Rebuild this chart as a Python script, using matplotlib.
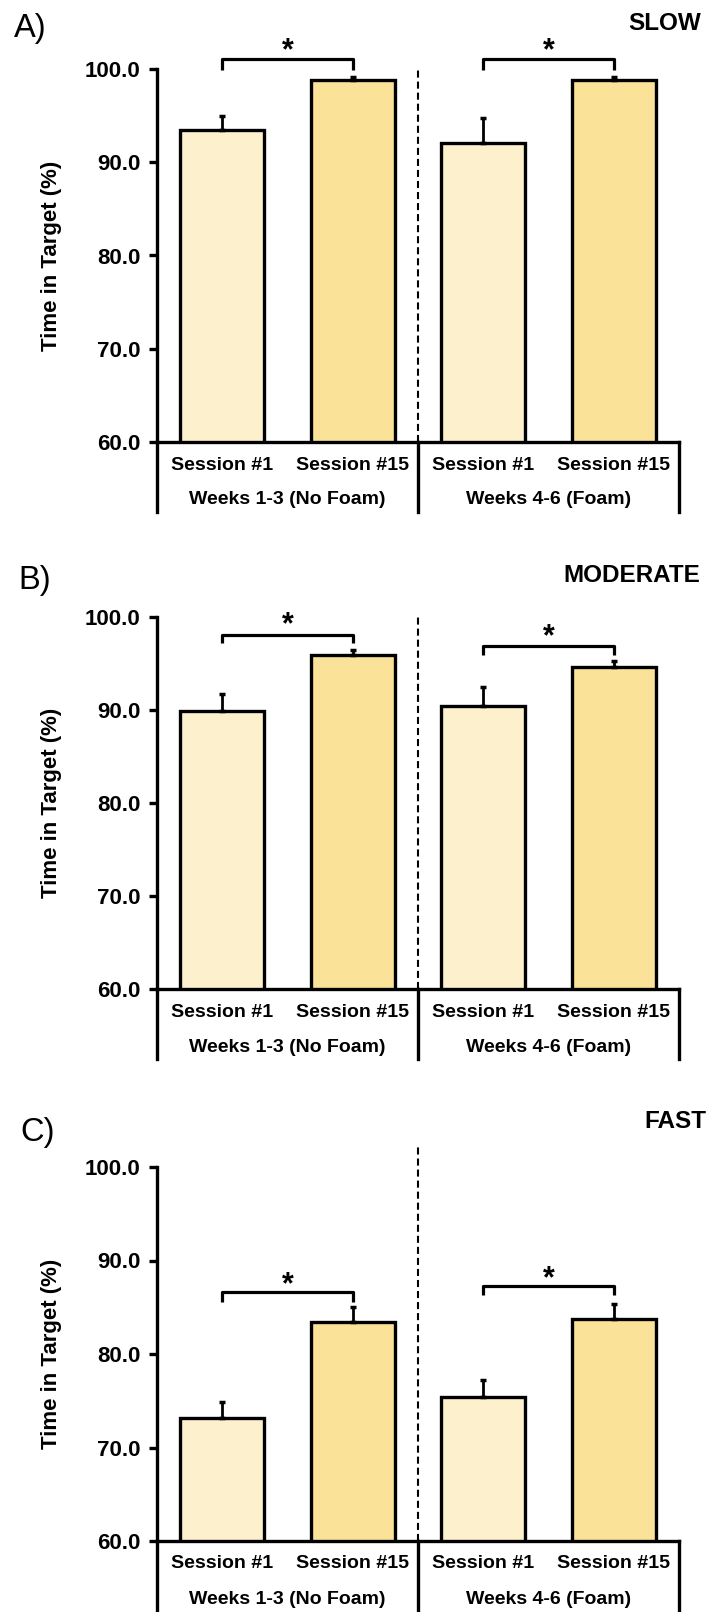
import matplotlib
matplotlib.use("Agg")
import matplotlib.pyplot as plt
from matplotlib.lines import Line2D
import matplotlib.transforms as mtransforms

plt.rcParams['font.family'] = ['Liberation Sans', 'DejaVu Sans']

# ---------------- data ----------------
sessions = ["Session #1", "Session #15", "Session #1", "Session #15"]
groups = ["Weeks 1-3 (No Foam)", "Weeks 4-6 (Foam)"]
panel_letters = ["A)", "B)", "C)"]
panel_titles = ["SLOW", "MODERATE", "FAST"]

slow_mean = [93.5, 98.8, 92.1, 98.8]
slow_err = [1.5, 0.35, 2.6, 0.35]
moderate_mean = [89.9, 95.9, 90.45, 94.6]
moderate_err = [1.8, 0.6, 2.0, 0.7]
fast_mean = [73.2, 83.45, 75.4, 83.7]
fast_err = [1.7, 1.55, 1.8, 1.6]

# significance brackets: (x1, x2, y_bar, y_leg_bottom, y_star)
slow_brackets = [(0, 1, 101.05, 99.9, 101.95), (2, 3, 101.05, 99.9, 101.95)]
moderate_brackets = [(0, 1, 98.05, 97.2, 99.15), (2, 3, 96.9, 95.9, 97.85)]
fast_brackets = [(0, 1, 86.6, 85.6, 87.4), (2, 3, 87.3, 86.3, 88.0)]
dash_tops = [100.2, 100.0, 102.1]

yticks = [60, 70, 80, 90, 100]
colors = ["#FDF0CD", "#FAE398", "#FDF0CD", "#FAE398"]

means = [slow_mean, moderate_mean, fast_mean]
errs = [slow_err, moderate_err, fast_err]
brackets = [slow_brackets, moderate_brackets, fast_brackets]

# ---------------- layout (pixels) ----------------
W, H = 709, 1612
fig = plt.figure(figsize=(W / 100, H / 100), dpi=100)
left_px, right_px = 157, 679
panels_px = [(69, 442), (617, 989), (1167, 1541)]
letter_pos = [(14, 28), (18, 581), (20, 1133)]
title_pos = [(701, 23), (700, 576), (706, 1121)]

LW = 2.4
x = list(range(len(sessions)))

for i in range(3):
    top, bot = panels_px[i]
    hpx = bot - top
    ax = fig.add_axes([left_px / W, 1 - bot / H, (right_px - left_px) / W, hpx / H])
    ax.bar(x, means[i], width=0.64, bottom=0, color=colors, edgecolor="black",
           linewidth=LW, zorder=2)
    ax.errorbar(x, means[i], yerr=[[0] * 4, errs[i]], fmt="none", ecolor="black",
                elinewidth=2.0, capsize=2.5, capthick=2.5, zorder=3)
    ax.set_xlim(-0.5, 3.5)
    ax.set_ylim(60, 100)
    ax.set_yticks(yticks)
    ax.set_yticklabels([f"{t:.1f}" for t in yticks], fontsize=16, fontweight="bold")
    ax.tick_params(axis="y", direction="out", length=6, width=LW, pad=6)
    ax.set_xticks([])
    for s in ["top", "right"]:
        ax.spines[s].set_visible(False)
    for s in ["left", "bottom"]:
        ax.spines[s].set_linewidth(LW)
        ax.spines[s].set_capstyle("projecting")
    ax.set_ylabel("Time in Target (%)", fontsize=16, fontweight="bold")
    ax.yaxis.set_label_coords(-(left_px - 62) / (right_px - left_px), 0.5)

    # dashed group separator
    ax.plot([1.5, 1.5], [60, dash_tops[i]], color="black", lw=1.5,
            ls=(0, (3.4, 1.9)), clip_on=False, zorder=1)

    # category area under the axis
    trans = mtransforms.blended_transform_factory(ax.transData, ax.transAxes)
    depth = 70 / hpx
    for xv in [-0.5, 1.5, 3.5]:
        ax.add_line(Line2D([xv, xv], [0, -depth], transform=trans, color="black",
                           lw=LW, clip_on=False, solid_capstyle="projecting"))
    for xv, lab in zip(x, sessions):
        ax.text(xv, -23 / hpx, lab, transform=trans, ha="center", va="center",
                fontsize=14, fontweight="bold")
    for gx, lab in zip([0.5, 2.5], groups):
        ax.text(gx, -58 / hpx, lab, transform=trans, ha="center", va="center",
                fontsize=14, fontweight="bold")

    # significance brackets
    for (x1, x2, yb, yl, ys) in brackets[i]:
        ax.plot([x1, x1, x2, x2], [yl, yb, yb, yl], color="black", lw=2.3,
                solid_joinstyle="round", solid_capstyle="butt", clip_on=False, zorder=4)
        ax.text((x1 + x2) / 2, ys, "*", ha="center", va="center", fontsize=22,
                fontweight="bold", clip_on=False)

    lx, ly = letter_pos[i]
    fig.text(lx / W, 1 - ly / H, panel_letters[i], ha="left", va="center",
             fontsize=23.5)
    tx, ty = title_pos[i]
    fig.text(tx / W, 1 - ty / H, panel_titles[i], ha="right", va="center",
             fontsize=17.5, fontweight="bold")

fig.savefig("out.png", dpi=100)
